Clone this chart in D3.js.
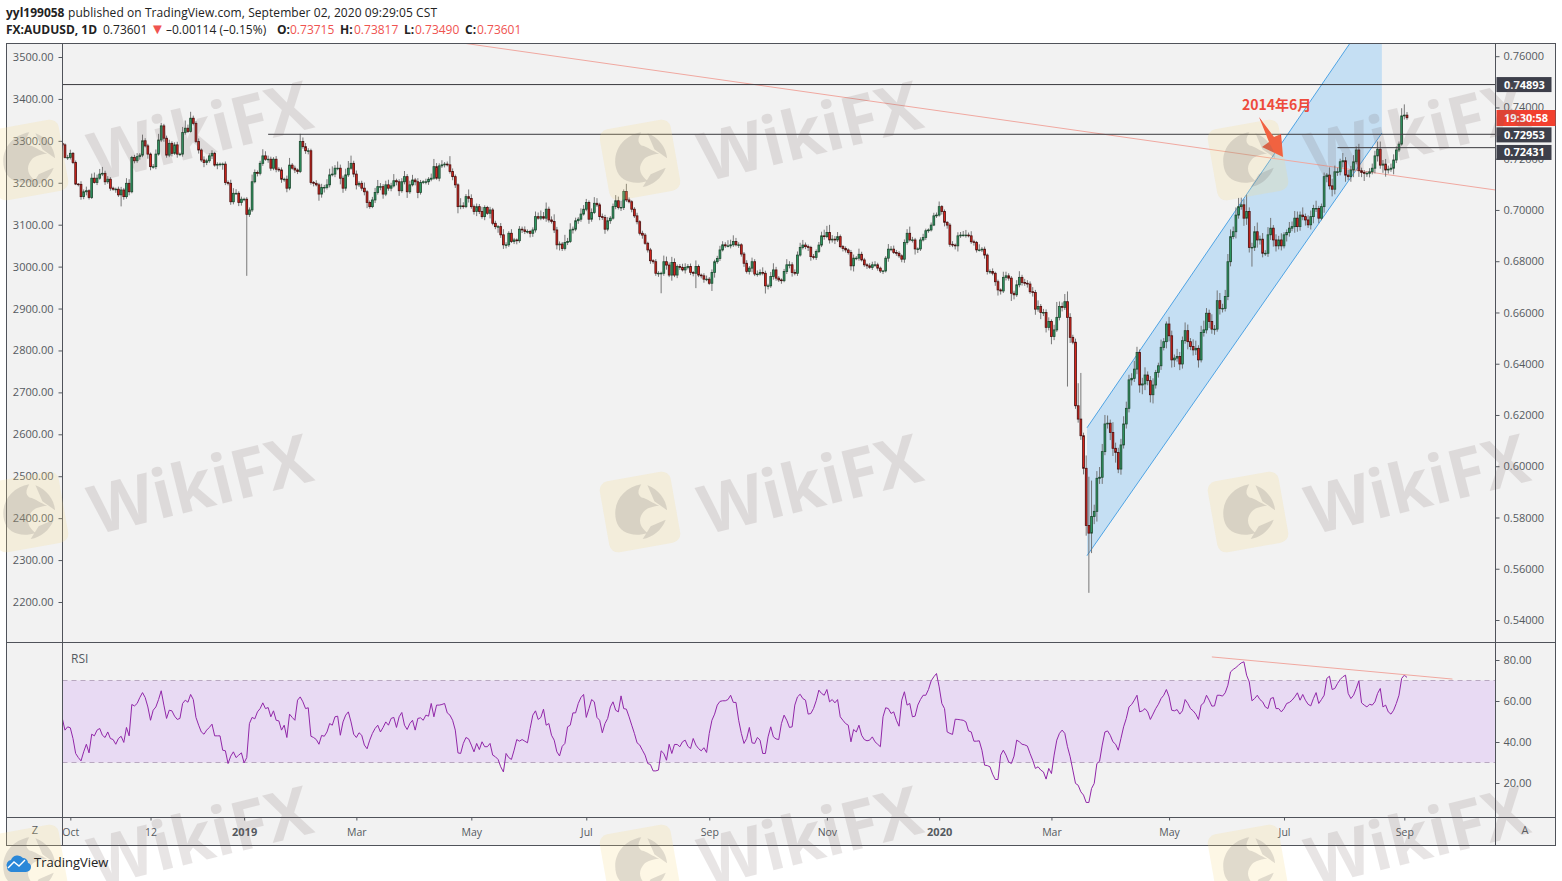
<!DOCTYPE html>
<html><head><meta charset="utf-8">
<script src="https://cdn.jsdelivr.net/npm/d3@7"></script>
<style>html,body{margin:0;padding:0;background:#fff}svg{display:block}text{font-family:"Open Sans",sans-serif}</style>
</head><body><svg id="c" width="1562" height="881"></svg>
<script>
// closes in 1/10000 of the price, one per daily bar
const closePips=[7254,7205,7205,7221,7185,7101,7100,7052,7071,7075,7049,7124,7107,7124,7140,7143,7110,7120,7085,7081,
7081,7059,7078,7052,7104,7071,7205,7192,7208,7214,7270,7250,7218,7169,7169,7218,7273,7328,7280,7214,
7260,7221,7254,7218,7218,7302,7319,7306,7358,7338,7267,7234,7195,7185,7192,7211,7221,7175,7178,7179,
7179,7107,7104,7032,7065,7065,7029,7042,7042,6983,7000,7110,7146,7143,7182,7211,7198,7198,7163,7198,
7159,7156,7120,7120,7085,7175,7163,7156,7150,7267,7247,7231,7231,7107,7104,7098,7062,7088,7088,7098,
7137,7140,7163,7163,7124,7085,7137,7163,7182,7140,7098,7104,7085,7071,7029,7013,7039,7068,7091,7091,
7062,7098,7085,7094,7114,7110,7075,7110,7130,7071,7098,7117,7110,7068,7107,7110,7110,7120,7124,7169,
7124,7172,7176,7179,7176,7150,7130,7098,7013,7016,7013,7052,7045,7013,6994,7013,6994,6974,7010,6987,
7000,6948,6935,6935,6903,6864,6864,6909,6877,6883,6880,6925,6922,6916,6916,6909,6922,6974,6968,6974,
6968,7003,6961,6955,6922,6864,
6867,6850,6873,6877,6922,6925,6958,6964,6984,7003,7029,6964,6990,7026,7020,6974,6971,6925,6958,6968,
7013,7036,7010,7010,7072,7039,7032,7003,6977,6954,6909,6902,6870,6844,6802,6798,6753,6753,6753,6798,
6785,6746,6795,6746,6779,6776,6766,6776,6779,6756,6753,6779,6746,6743,6730,6730,6714,6756,6798,6811,
6844,6864,6860,6860,6864,6877,6864,6864,6828,6792,6760,6773,6798,6750,6750,6756,
6753,6704,6704,6740,6766,6734,6727,6724,6760,6786,6786,6756,6753,6824,6854,6863,6857,6854,6818,6815,
6838,6863,6899,6896,6912,6883,6886,6883,6896,6857,6850,6844,6834,6782,6812,6812,6827,6805,6786,6782,
6776,6786,6786,6773,6762,6762,6812,6847,6847,6834,6831,6821,6808,6873,6909,6883,6883,6848,6848,6883,
6893,6919,6922,6941,6977,6980,7013,6994,6952,6941,6866,6863,6860,6899,6902,6902,6902,6899,6876,6873,
6844,6844,6847,6824,6760,6760,6753,6720,6688,6684,6737,6743,6734,6675,6669,6708,6737,6717,6714,6711,
6681,6678,6613,6623,6600,6600,6542,6565,6506,6532,6581,6623,
6620,6642,6581,6503,6484,6236,6184,6119,5992,5769,5739,5804,5824,5953,5957,6057,6165,6168,6132,6070,
6054,5989,6083,6165,6226,6337,6343,6379,6444,6317,6321,6356,6334,6279,6317,6366,6392,6464,6486,6555,
6509,6415,6422,6428,6399,6490,6529,6486,6467,6454,6460,6415,6522,6532,6597,6565,6535,6535,6646,6616,
6616,6662,
6798,6896,6915,6980,7013,7020,6968,6994,6854,6854,6915,6883,6886,6831,6831,6903,6929,6883,6860,6883,
6860,6903,6912,6929,6935,6968,6935,6980,6974,6961,6942,6974,7006,7006,6968,7013,7130,7136,7094,7081,
7149,7149,7188,7192,7136,7130,7156,7188,7234,7153,7146,7143,7143,7149,7163,7211,7237,7175,7179,7156,
7159,7163,7195,7234,7257,7367,7370,7360];
const upperWick=[8,6,10,14,5,8,4,12,9,16,6,18,22,14,20,25,10,12,8,6,
6,10,12,8,20,16,6,10,14,8,24,10,8,6,10,18,24,12,8,10,
14,8,10,12,6,22,30,14,25,10,8,12,6,14,8,10,12,6,8,6,
6,10,8,14,20,16,8,10,6,8,10,28,12,8,10,26,18,14,10,8,
12,8,10,6,14,28,8,10,6,30,16,14,10,8,6,12,8,14,10,22,
24,30,12,26,14,10,24,28,30,10,14,8,10,22,6,8,12,18,26,14,
10,16,20,12,26,8,10,14,22,10,16,20,8,14,10,6,12,8,18,30,
14,10,18,8,10,34,12,8,6,30,14,10,28,16,8,12,10,18,8,6,
12,8,10,6,14,22,10,8,16,8,6,12,10,14,8,6,10,20,16,24,
18,26,10,14,28,12,10,8,30,14,26,10,12,8,22,16,14,8,16,24,
20,8,12,10,14,8,12,22,16,26,8,30,10,6,8,12,6,10,8,6,
8,6,10,8,6,24,20,10,22,16,8,10,14,16,10,12,6,24,8,6,
10,14,8,12,8,10,16,14,10,22,20,24,14,10,6,8,12,8,16,10,
14,12,20,10,8,18,26,12,8,6,10,22,14,10,12,14,18,20,10,8,
6,10,8,12,16,24,26,30,16,12,18,8,6,8,6,10,14,8,22,10,
8,6,10,12,14,8,6,4,8,20,12,14,10,8,6,12,16,26,12,8,
6,10,14,8,6,10,12,10,20,6,8,4,8,12,6,14,12,16,20,10,
18,8,6,22,8,10,6,8,12,6,8,6,22,16,10,8,10,18,24,10,
14,12,10,18,10,24,10,14,12,16,8,20,60,20,16,30,40,16,10,14,
88,180,12,50,190,140,26,28,40,30,35,30,14,40,22,18,24,30,26,20,
20,32,22,12,24,30,14,18,26,10,12,30,14,10,28,20,14,30,18,16,
32,24,14,28,30,12,26,36,20,14,28,16,40,30,18,26,30,28,20,30,
34,28,22,65,16,18,22,36,14,24,12,30,40,12,22,16,26,10,12,24,
20,28,26,14,30,12,18,24,14,30,10,12,16,8,30,28,24,16,12,30,
14,20,16,26,14,24,12,10,8,14,18,20,30,30,16,20,14,18,22,14,10,30,42,12];
const lowerWick=[6,4,10,8,6,4,8,12,10,14,8,6,4,10,6,8,12,8,10,6,
14,8,45,12,8,14,6,10,8,12,8,6,18,14,8,10,6,8,14,10,
8,12,6,14,8,10,8,6,4,8,6,14,8,18,10,8,12,6,16,8,
22,10,8,12,10,6,14,12,8,240,10,8,6,12,8,10,6,14,10,8,
12,8,14,10,16,8,6,12,10,6,8,12,14,8,12,6,26,14,20,8,
10,6,12,8,24,18,10,8,6,12,18,8,10,14,22,8,6,12,8,14,
18,8,10,12,6,14,20,8,10,24,8,6,14,22,8,6,10,12,8,6,
6,12,8,10,6,8,14,12,26,10,8,6,16,8,12,18,10,8,14,6,
20,8,10,24,12,16,14,8,6,10,14,8,12,10,8,16,14,10,6,8,
6,14,10,8,12,18,22,10,8,10,6,14,8,12,10,6,8,18,10,6,
8,14,10,18,8,12,6,10,8,14,10,8,6,12,8,10,8,14,6,10,
12,8,10,14,78,10,18,8,22,8,12,10,6,14,8,10,12,58,8,10,
14,8,6,30,20,8,10,6,8,6,10,8,6,12,10,14,8,12,16,8,
10,6,8,30,14,8,12,10,8,12,6,10,14,16,8,10,6,8,10,14,
16,8,10,6,8,12,6,14,10,16,8,6,12,10,8,18,22,8,10,6,
8,12,6,10,8,10,8,12,6,14,8,6,10,8,12,14,8,6,10,22,
16,8,6,10,8,6,4,8,6,12,16,14,10,8,14,22,8,6,10,6,
8,12,10,6,8,14,12,10,8,16,22,14,8,12,10,30,18,8,10,12,
10,14,8,16,22,10,26,14,20,12,30,14,8,12,16,10,270,22,8,12,
14,16,24,40,233,78,30,40,22,26,14,18,30,30,40,16,22,14,18,16,
22,14,20,30,36,24,18,30,34,14,20,16,12,26,22,30,28,14,24,18,
12,30,14,22,20,30,10,16,14,26,18,22,10,24,16,12,14,18,10,26,
14,12,30,26,20,75,14,30,18,16,10,14,20,26,22,14,18,10,26,16,
12,24,20,16,14,22,12,18,26,14,20,8,24,22,14,28,20,16,14,22,
26,14,20,28,10,24,18,30,14,16,10,20,22,14,30,26,14,10,24,12,8,6,14,8];
const rsiValues=[51.5,45.8,47.4,46.9,41.7,34.4,32.4,30.8,35.2,38.9,34.7,43.8,43.0,45.8,46.6,43.3,42.2,44.9,41.7,41.2,
38.9,41.7,42.8,39.8,47.1,43.0,58.3,57.6,58.8,61.7,64.1,61.7,57.1,50.6,55.5,57.1,60.7,65.0,58.0,51.5,
55.5,55.2,52.6,51.0,51.5,58.8,60.4,59.4,63.2,60.7,52.0,48.2,44.9,43.8,45.8,47.1,48.7,43.0,43.0,43.0,
36.0,35.7,29.5,33.1,35.2,32.4,33.6,34.7,29.8,32.4,49.0,52.0,51.3,54.7,56.3,59.1,56.3,56.8,52.3,55.2,
50.6,50.3,45.8,48.2,42.2,53.6,52.0,50.6,60.4,62.0,59.6,56.3,56.7,42.8,42.2,41.2,38.9,43.2,42.8,44.9,
49.0,48.2,52.3,52.6,43.3,49.8,53.1,54.7,49.8,43.8,42.2,44.5,43.3,38.5,36.7,40.9,44.2,46.6,48.2,44.9,
47.1,49.8,48.2,51.5,52.0,47.1,52.3,54.4,48.2,46.1,49.0,50.6,45.8,51.5,51.8,50.6,53.1,52.6,58.8,52.3,
58.0,58.0,58.3,58.8,54.2,53.1,50.6,45.8,34.7,34.4,39.3,42.2,41.5,38.5,35.2,39.3,36.3,40.1,37.7,37.7,
39.3,33.6,32.8,31.5,
27.9,25.4,34.4,32.4,31.5,36.0,41.2,40.4,41.2,40.4,39.6,46.6,53.1,55.2,51.0,52.0,56.0,48.2,49.0,43.3,
40.9,35.2,33.2,37.9,39.3,47.4,48.2,54.2,54.2,58.8,61.7,63.2,52.0,56.3,60.7,59.6,52.0,50.6,44.5,49.0,
51.5,57.1,59.6,55.5,54.7,62.5,56.3,56.0,52.3,48.2,44.2,39.6,38.5,36.0,33.6,29.5,29.0,25.9,25.9,26.3,
35.7,34.4,31.1,38.9,34.4,38.8,38.8,37.7,40.1,40.9,37.9,36.8,41.7,38.5,36.8,35.7,37.2,34.9,44.2,50.6,
53.6,58.0,59.8,60.1,60.1,60.7,62.8,59.3,59.3,50.6,44.2,39.3,41.7,47.1,39.6,39.3,42.2,40.9,34.4,34.4,
42.5,47.4,42.5,41.5,41.2,49.0,53.1,50.6,47.1,47.4,58.0,62.0,63.3,61.2,60.4,53.6,53.9,56.3,60.1,65.3,
63.7,62.8,65.6,59.6,60.7,59.1,60.7,52.3,50.6,49.0,48.2,40.1,46.1,44.9,48.2,43.3,41.2,40.6,40.9,42.5,
40.1,38.9,37.7,52.3,56.7,56.3,53.9,54.7,50.6,47.7,60.4,64.5,58.0,58.8,52.3,52.6,58.0,60.7,62.8,62.8,
65.6,69.8,71.8,73.4,66.9,58.8,56.3,44.9,44.2,43.7,51.1,51.0,50.8,50.6,49.8,45.4,44.9,40.4,40.4,40.6,
36.0,28.7,28.5,27.9,24.3,21.7,21.7,
33.6,36.0,33.6,30.3,29.5,33.1,40.9,40.1,38.9,38.6,38.0,34.4,31.1,27.1,27.9,26.3,25.4,21.9,27.1,24.6,
33.6,40.9,44.2,45.8,44.2,37.7,32.8,26.3,19.8,18.9,15.7,14.1,10.5,10.5,17.3,19.8,29.5,30.6,38.5,44.9,
45.4,43.3,40.1,38.9,36.0,41.7,47.4,51.5,57.1,58.3,60.4,62.8,54.7,55.2,56.3,54.7,51.0,53.6,56.3,58.4,
61.2,62.8,65.6,62.0,55.5,55.2,55.8,53.6,55.2,60.7,58.8,56.3,55.2,53.6,51.0,58.0,59.1,62.8,60.4,57.5,
57.6,62.8,62.8,62.4,64.0,67.7,74.2,75.4,76.3,77.5,78.6,79.1,72.6,69.3,60.1,61.2,62.8,60.7,59.6,57.1,
56.3,61.2,61.7,56.3,56.3,54.7,56.3,58.8,59.3,60.4,62.0,64.0,60.4,63.2,60.4,58.4,57.6,61.2,64.1,58.8,
60.7,62.8,71.0,72.1,65.6,66.1,68.5,70.5,71.8,72.6,63.7,61.2,62.8,66.1,69.8,59.1,58.0,57.1,58.4,58.0,
59.6,63.7,66.1,57.1,58.0,54.7,53.6,55.5,58.8,62.8,71.0,72.6,71.5];
const leftTicks=[2200,2300,2400,2500,2600,2700,2800,2900,3000,3100,3200,3300,3400,3500];
const rightTicks=[0.54,0.56,0.58,0.60,0.62,0.64,0.66,0.68,0.70,0.72,0.74,0.76];
const rsiTicks=[20,40,60,80];
const timeTickBars=[3,33,68,110,153,196,242,286,328,370,414,457,502];
const timeTickLabels=["Oct","12","2019","Mar","May","Jul","Sep","Nov","2020","Mar","May","Jul","Sep"];
const levelLines=[[0,0.74893],[77,0.72953],[477,0.72431]];
const levelTags=[0.74893,0.72953,0.72431];
const resistance=[[150,0.7651],[536,0.7078]];
const channelTop=[[383.3,0.6150],[481.7,0.7651]];
const channelBottom=[[383.3,0.5651],[493.6,0.7300]];
const channelEdge=[493.6,0.7651];
const rsiTrend=[[430,81.5],[520,70.7]];
const wmCols=[200,810,1417], wmRows=[131,484,836];
const logoCols=[28,640,1248], logoRows=[160,512,865];

const svg=d3.select("#c");
const L=62.5,R=1495.5,T=43.5,P=642.5,B=817.5,E=845.5,O=6.5,W=1555.5;
const x=d3.scaleLinear().domain([0,503]).range([62.3,1407]);
const yP=d3.scaleLinear().domain([0.54,0.76]).range([620,56.2]);
const yL=d3.scaleLinear().domain([2200,3500]).range([602,57]);
const yR=d3.scaleLinear().domain([20,80]).range([783,660]);
const grey="#555a60",frame="#50535a";

svg.append("rect").attr("x",O).attr("y",T).attr("width",W-O).attr("height",E-T).attr("fill","#f2f2f2");
svg.append("clipPath").attr("id","m").append("rect").attr("x",L).attr("y",T).attr("width",R-L).attr("height",P-T);
const main=svg.append("g").attr("clip-path","url(#m)");

// channel
main.append("path").attr("d",d3.line().x(d=>x(d[0])).y(d=>yP(d[1]))([channelTop[0],channelTop[1],channelEdge,channelBottom[1],channelBottom[0]])).attr("fill","#c5dff3");
[channelTop,channelBottom].forEach(s=>main.append("line").attr("x1",x(s[0][0])).attr("y1",yP(s[0][1])).attr("x2",x(s[1][0])).attr("y2",yP(s[1][1])).attr("stroke","#4ea3e4").attr("stroke-width",1));
// resistance
main.append("line").attr("x1",x(resistance[0][0])).attr("y1",yP(resistance[0][1])).attr("x2",x(resistance[1][0])).attr("y2",yP(resistance[1][1])).attr("stroke","#f0a8a0").attr("stroke-width",1);
// candles
const bars=closePips.map((c,i)=>{const o=i?closePips[i-1]:7260;return {i,o:o/1e4,c:c/1e4,h:(Math.max(o,c)+(upperWick[i]||0))/1e4,l:(Math.min(o,c)-(lowerWick[i]||0))/1e4};});
const g=main.selectAll("g.b").data(bars).join("g").attr("class","b");
g.append("line").attr("x1",d=>x(d.i)).attr("x2",d=>x(d.i)).attr("y1",d=>yP(d.h)).attr("y2",d=>yP(d.l)).attr("stroke","#6a6a6a").attr("stroke-width",0.9);
g.append("rect").attr("x",d=>x(d.i)-0.9).attr("width",1.8)
 .attr("y",d=>Math.min(yP(d.o),yP(d.c))).attr("height",d=>Math.max(0.6,Math.abs(yP(d.o)-yP(d.c))))
 .attr("fill",d=>d.c>=d.o?"#2f9a64":"#d8261c").attr("stroke",d=>d.c>=d.o?"#1f4a30":"#4a1010").attr("stroke-width",0.8);
// levels
main.selectAll("line.lv").data(levelLines).join("line").attr("x1",d=>x(d[0])).attr("x2",R).attr("y1",d=>yP(d[1])).attr("y2",d=>yP(d[1])).attr("stroke","#3a3a3e").attr("stroke-width",1);

// annotation
const ann=svg.append("g");
ann.append("text").attr("x",1242).attr("y",110).attr("fill","#ee4b3c").attr("font-size",14).attr("font-weight",700).style("font-family",'"Noto Sans CJK SC",sans-serif').text("2014年6月");
ann.append("path").attr("d","M1259,117 L1274,137 L1281,134 L1283,157 L1262,147 L1269,142 Z").attr("fill","#f0402c");

// axes
const axisStyle=s=>{s.select(".domain").remove();s.selectAll("line").attr("stroke",grey);s.selectAll("text").attr("fill",grey).attr("font-size",11).style("font-family",'"Open Sans",sans-serif');};
svg.append("g").attr("transform",`translate(${L},0)`).call(d3.axisLeft(yL).tickValues(leftTicks).tickFormat(d3.format(".2f")).tickSize(4).tickPadding(5)).call(axisStyle);
svg.append("g").attr("transform",`translate(${R},0)`).call(d3.axisRight(yP).tickValues(rightTicks).tickFormat(d3.format(".5f")).tickSize(4).tickPadding(4)).call(axisStyle);
svg.append("g").attr("transform",`translate(${R},0)`).call(d3.axisRight(yR).tickValues(rsiTicks).tickFormat(d3.format(".2f")).tickSize(4).tickPadding(4)).call(axisStyle);
const tAxis=svg.append("g").attr("transform",`translate(0,${B})`).call(d3.axisBottom(x).tickValues(timeTickBars).tickFormat((d,i)=>timeTickLabels[i]).tickSize(3).tickPadding(8)).call(axisStyle);
tAxis.selectAll("text").attr("font-weight",(d,i)=>/^20/.test(timeTickLabels[i])?700:400).attr("font-size",(d,i)=>/^20/.test(timeTickLabels[i])?11:10.5);

// RSI
svg.append("clipPath").attr("id","r").append("rect").attr("x",L).attr("y",P).attr("width",R-L).attr("height",B-P);
const rp=svg.append("g").attr("clip-path","url(#r)");
rp.append("rect").attr("x",L).attr("width",R-L).attr("y",yR(70)).attr("height",yR(30)-yR(70)).attr("fill","#e8daf3");
[70,30].forEach(v=>rp.append("line").attr("x1",L).attr("x2",R).attr("y1",yR(v)).attr("y2",yR(v)).attr("stroke","#b8a8c0").attr("stroke-dasharray","5 4"));
rp.append("path").attr("d",d3.line().x((d,i)=>x(i)).y(d=>yR(d))(rsiValues)).attr("fill","none").attr("stroke","#9127a8").attr("stroke-width",1);
rp.append("line").attr("x1",x(rsiTrend[0][0])).attr("y1",yR(rsiTrend[0][1])).attr("x2",x(rsiTrend[1][0])).attr("y2",yR(rsiTrend[1][1])).attr("stroke","#f0a8a0");
svg.append("text").attr("x",71).attr("y",663).attr("fill",grey).attr("font-size",12).text("RSI");

// frame
const fl=(a,b,c,d)=>svg.append("line").attr("x1",a).attr("y1",b).attr("x2",c).attr("y2",d).attr("stroke",frame).attr("stroke-width",1);
svg.append("rect").attr("x",O).attr("y",T).attr("width",W-O).attr("height",E-T).attr("fill","none").attr("stroke",frame);
fl(L,T,L,E);fl(R,T,R,E);fl(O,P,W,P);fl(O,B,W,B);
svg.append("text").attr("x",35).attr("y",834).attr("text-anchor","middle").attr("fill",grey).attr("font-size",11).text("Z");
svg.append("text").attr("x",1525).attr("y",834).attr("text-anchor","middle").attr("fill",grey).attr("font-size",11).text("A");

// price tags (the lowest one is pushed down so it clears its neighbour)
const tagShift=[0,0.6,4.8];
levelTags.forEach((v,i)=>{const yy=yP(v)+tagShift[i];
 svg.append("rect").attr("x",R+1).attr("y",yy-7.5).attr("width",55).attr("height",15).attr("fill","#3d3f4a");
 svg.append("text").attr("x",1504).attr("y",yy+4).attr("fill","#fff").attr("font-size",11).attr("font-weight",700).text(d3.format(".5f")(v));});
svg.append("rect").attr("x",R+1).attr("y",110).attr("width",59).attr("height",16).attr("fill","#f2402f");
svg.append("text").attr("x",1504).attr("y",122).attr("fill","#fff").attr("font-size",11).attr("font-weight",700).text("19:30:58");

// header
const h1=svg.append("text").attr("y",17).attr("font-size",12).attr("fill","#222");
h1.append("tspan").attr("x",6).attr("font-weight",700).text("yyl199058");
h1.append("tspan").attr("x",68).attr("textLength",369).attr("lengthAdjust","spacing").text("published on TradingView.com, September 02, 2020 09:29:05 CST");
const h2=svg.append("text").attr("y",34).attr("font-size",12).attr("fill","#222");
h2.append("tspan").attr("x",6).attr("font-weight",700).text("FX:AUDUSD, 1D");
h2.append("tspan").attr("x",103).text("0.73601");
h2.append("tspan").attr("x",150).attr("fill","#ef5350").attr("font-size",15).text("▼");
h2.append("tspan").attr("x",166).text("–0.00114 (–0.15%)");
[["O:","0.73715",277,290],["H:","0.73817",340,354],["L:","0.73490",404,415],["C:","0.73601",465,477]].forEach(p=>{
 h2.append("tspan").attr("x",p[2]).attr("font-weight",700).text(p[0]);
 h2.append("tspan").attr("x",p[3]).attr("fill","#ef5350").text(p[1]);});

// watermark
const wm=svg.append("g").attr("pointer-events","none");
logoRows.forEach(r=>logoCols.forEach(c=>{
 const l=wm.append("g").attr("transform",`translate(${c},${r}) rotate(-10)`);
 l.append("rect").attr("x",-36).attr("y",-36).attr("width",72).attr("height",72).attr("rx",9).attr("fill","#f5d98a").attr("opacity",.22);
 l.append("path").attr("d","M-25,4 C-26,-14 -12,-27 6,-27 C2,-22 0,-18 4,-14 C10,-12 14,-6 20,-3 C12,-3 6,-3 2,2 C-4,8 -2,16 4,22 C-10,24 -24,18 -25,4 Z M12,-25 C22,-19 28,-8 27,3 L16,-8 Z M24,12 C18,22 8,27 -2,27 L8,16 Z").attr("fill","#6e6a68").attr("opacity",.2);
}));
wmRows.forEach(r=>wmCols.forEach(c=>{
 wm.append("text").attr("transform",`translate(${c},${r}) rotate(-14)`).attr("text-anchor","middle").attr("dy","0.36em")
  .attr("font-size",68).attr("font-weight",700).attr("textLength",226).attr("lengthAdjust","spacingAndGlyphs")
  .attr("fill","#6e5a5a").attr("opacity",.15).text("WikiFX");
}));

// TradingView logo
const tv=svg.append("g");
tv.append("path").attr("d","M7,867 a5,5 0 0 1 4,-7 a7,7 0 0 1 12,-2 a5,5 0 0 1 5,5 a4,4 0 0 1 3,4 a5,5 0 0 1 -5,5 h-15 a5,5 0 0 1 -4,-5 z").attr("fill","#2a87d8");
tv.append("path").attr("d","M8,868 L14,862 L19,866 L25,860").attr("fill","none").attr("stroke","#fff").attr("stroke-width",1.4);
tv.append("text").attr("x",34).attr("y",867).attr("font-size",13).attr("fill","#222").text("TradingView");
</script></body></html>
